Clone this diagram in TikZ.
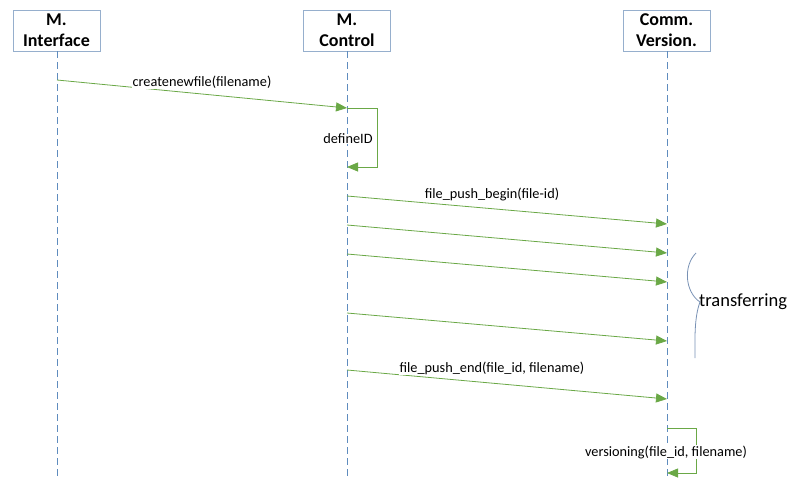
\documentclass[tikz,border=0pt]{standalone}
\usepackage{fontspec}
\setmainfont{Carlito}
\usetikzlibrary{arrows.meta}
\definecolor{boxc}{RGB}{150,175,205}
\definecolor{lifec}{RGB}{95,140,190}
\definecolor{msgc}{RGB}{106,168,70}
\definecolor{bracec}{RGB}{120,145,180}
\begin{document}
\begin{tikzpicture}[x=1pt,y=-1pt,
  actor/.style={draw=boxc,line width=0.9pt,minimum width=87pt,minimum height=41pt,inner sep=0pt,align=center,font=\fontsize{18}{21}\selectfont\bfseries},
  life/.style={draw=lifec,line width=0.7pt,dash pattern=on 7pt off 4pt},
  msg/.style={draw=msgc,line width=0.8pt,-{Triangle[length=11pt,width=9pt]}},
  lbl/.style={fill=white,inner sep=0.3pt,font=\fontsize{14.3}{16}\selectfont},
  brc/.style={draw=bracec,line width=0.8pt}]
\useasboundingbox (0,0) rectangle (790,477);
% actors
\node[actor] (ifc) at (56.5,30.5) {M.\\Interface};
\node[actor] (ctl) at (347,30.5) {M.\\Control};
\node[actor] (ver) at (666.5,30.5) {Comm.\\Version.};
% lifeline ends
\coordinate (ifcE) at (57,477);
\coordinate (ctlE) at (347,477);
\coordinate (verE) at (667,477);
\draw[life] (ifc.south -| ifcE) -- (ifcE);
\draw[life] (ctl.south -| ctlE) -- (ctlE);
\draw[life] (ver.south -| verE) -- (verE);
% message points
\coordinate (m1s) at (57,80);   \coordinate (m1e) at (347,108);
\coordinate (d1) at (377,108);  \coordinate (d2) at (377,167); \coordinate (d3) at (347,167);
\coordinate (a1s) at (347,196); \coordinate (a1e) at (667,224);
\coordinate (a2s) at (347,225); \coordinate (a2e) at (667,253);
\coordinate (a3s) at (347,254); \coordinate (a3e) at (667,282);
\coordinate (a4s) at (347,313); \coordinate (a4e) at (667,341);
\coordinate (a5s) at (347,370); \coordinate (a5e) at (667,399);
\coordinate (v0) at (667,428);  \coordinate (v1) at (696,428);
\coordinate (v2) at (696,473);  \coordinate (v3) at (667,473);
% messages
\draw[msg] (m1s) -- (m1e);
\draw[msg] (m1e) -- (d1) -- (d2) -- (d3);
\draw[msg] (a1s) -- (a1e);
\draw[msg] (a2s) -- (a2e);
\draw[msg] (a3s) -- (a3e);
\draw[msg] (a4s) -- (a4e);
\draw[msg] (a5s) -- (a5e);
\draw[msg] (v0) -- (v1) -- (v2) -- (v3);
% labels
\node[lbl] (l1) at (202,82) {createnewfile(filename)};
\node[lbl] (l2) at (348,139) {defineID};
\node[lbl] (l3) at (492,194) {file\_push\_begin(file-id)};
\node[lbl] (l4) at (492,368) {file\_push\_end(file\_id, filename)};
\node[lbl] (l5) at (666,452) {versioning(file\_id, filename)};
% brace
\coordinate (b0) at (696,253);
\coordinate (b1) at (700,302);
\coordinate (b2) at (695,358);
\draw[brc] (b0) .. controls (683,266) and (685,292) .. (b1) .. controls (694,318) and (695,340) .. (b2);
\node[anchor=west,inner sep=0pt,font=\fontsize{18.5}{22}\selectfont] (tr) at (699,302) {transferring};
\end{tikzpicture}
\end{document}
